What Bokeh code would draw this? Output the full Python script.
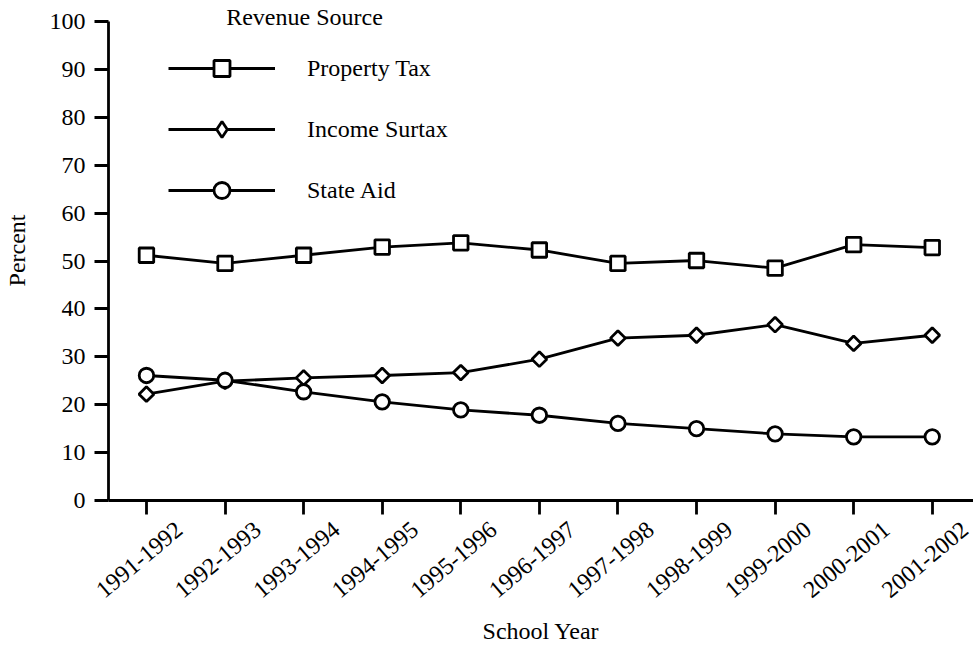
import math
from bokeh.plotting import figure
from bokeh.models import (Range1d, Legend, LegendItem, Label, LinearAxis,
                          FixedTicker)
from bokeh.embed import file_html
from bokeh.resources import INLINE

# ---- data ----
years = ["1991-1992", "1992-1993", "1993-1994", "1994-1995", "1995-1996", "1996-1997",
         "1997-1998", "1998-1999", "1999-2000", "2000-2001", "2001-2002"]
property_tax = [51.2, 49.5, 51.2, 52.9, 53.8, 52.3, 49.5, 50.1, 48.5, 53.4, 52.8]
income_surtax = [22.2, 24.9, 25.6, 26.1, 26.7, 29.5, 33.9, 34.5, 36.7, 32.8, 34.5]
state_aid = [26.1, 25.1, 22.7, 20.6, 18.9, 17.8, 16.1, 15.0, 13.9, 13.3, 13.3]
y_ticks = [0, 10, 20, 30, 40, 50, 60, 70, 80, 90, 100]
series_names = ["Property Tax", "Income Surtax", "State Aid"]
legend_title = "Revenue Source"
x_title = "School Year"
y_title = "Percent"

x_idx = list(range(len(years)))  # category positions

# ---- layout constants (pixels) ----
W, H = 973, 647
FRAME_LEFT = 107
FRAME_BOTTOM = 500          # x axis row
Y100_PX = 21                # pixel row of 100
STEP_PX = 78.67             # pixel distance between categories
FIRST_TICK_PX = 145
LABEL_SHIFT_PX = 33         # rotated labels end right of their tick

ppu = (FRAME_BOTTOM - Y100_PX) / 100.0
y_end = 100 + Y100_PX / ppu
x_start = -(FIRST_TICK_PX - FRAME_LEFT) / STEP_PX
x_end = x_start + (W - FRAME_LEFT) / STEP_PX
shift = LABEL_SHIFT_PX / STEP_PX

FONT = "Liberation Serif"
FS = "24px"
LW = 2.8

p = figure(width=W, height=H,
           x_range=Range1d(x_start, x_end),
           y_range=Range1d(0, y_end),
           output_backend="svg", toolbar_location=None,
           min_border_left=FRAME_LEFT, min_border_right=0,
           min_border_top=0, min_border_bottom=H - FRAME_BOTTOM)
p.outline_line_color = None
p.grid.visible = False
p.background_fill_color = "white"
p.border_fill_color = "white"

for ax in (p.xaxis[0], p.yaxis[0]):
    ax.axis_line_width = LW
    ax.axis_line_color = "black"
    ax.major_tick_line_width = LW
    ax.major_tick_line_color = "black"
    ax.major_tick_out = 14
    ax.major_tick_in = 0
    ax.minor_tick_out = 0
    ax.minor_tick_in = 0
    ax.major_label_text_font = FONT
    ax.major_label_text_font_size = FS
    ax.major_label_text_color = "black"

# y axis
p.yaxis.ticker = FixedTicker(ticks=y_ticks)
p.yaxis.bounds = (0, 100)
p.yaxis.major_label_standoff = 9
p.yaxis.axis_label = y_title
p.yaxis.axis_label_standoff = 17
p.yaxis.axis_label_text_font = FONT
p.yaxis.axis_label_text_font_size = FS
p.yaxis.axis_label_text_font_style = "normal"
p.yaxis.axis_label_text_color = "black"

# x axis: tick marks only
p.xaxis.ticker = FixedTicker(ticks=x_idx)
p.xaxis.major_label_text_font_size = "0px"
p.xaxis.major_label_text_color = None
p.xaxis.major_label_standoff = 0

# second x axis carrying the rotated category labels and the axis title
p.extra_x_ranges = {"lab": Range1d(x_start - shift, x_end - shift)}
lab_axis = LinearAxis(x_range_name="lab",
                      ticker=FixedTicker(ticks=x_idx),
                      major_label_overrides={i: years[i] for i in x_idx},
                      bounds=(-1, len(years) + 1),
                      axis_line_color=None, major_tick_out=0, major_tick_in=0,
                      minor_tick_out=0, minor_tick_in=0,
                      major_label_orientation=math.radians(40),
                      major_label_standoff=12,
                      major_label_text_font=FONT, major_label_text_font_size=FS,
                      major_label_text_color="black",
                      axis_label=x_title, axis_label_standoff=10,
                      axis_label_text_font=FONT, axis_label_text_font_size=FS,
                      axis_label_text_font_style="normal", axis_label_text_color="black")
p.add_layout(lab_axis, "below")

# series
line_kw = dict(line_color="black", line_width=LW)
mk = dict(fill_color="white", line_color="black", line_width=LW)

l1 = p.line(x_idx, property_tax, **line_kw)
s1 = p.scatter(x_idx, property_tax, marker="square", size=14.5, **mk)
l2 = p.line(x_idx, income_surtax, **line_kw)
s2 = p.scatter(x_idx, income_surtax, marker="square", angle=math.pi / 4, size=10.5, **mk)
s2_key = p.scatter(x_idx, income_surtax, marker="diamond", size=14, visible=False, **mk)
l3 = p.line(x_idx, state_aid, **line_kw)
s3 = p.scatter(x_idx, state_aid, marker="circle", size=14.5, **mk)

legend = Legend(items=[LegendItem(label=series_names[0], renderers=[l1, s1]),
                       LegendItem(label=series_names[1], renderers=[l2, s2_key]),
                       LegendItem(label=series_names[2], renderers=[l3, s3])],
                location=(167 - FRAME_LEFT, FRAME_BOTTOM - 210), orientation="vertical",
                glyph_width=107, glyph_height=40, spacing=21, label_standoff=32,
                padding=0, margin=0, border_line_color=None,
                background_fill_alpha=0,
                label_text_font=FONT, label_text_font_size=FS,
                label_text_color="black", label_text_baseline="middle")
p.add_layout(legend)

p.add_layout(Label(x=303 - FRAME_LEFT, y=FRAME_BOTTOM - 16, x_units="screen", y_units="screen",
                   text=legend_title, text_align="center", text_baseline="alphabetic",
                   text_font=FONT, text_font_size=FS, text_color="black"))

open("out.html", "w").write(file_html(p, INLINE))
